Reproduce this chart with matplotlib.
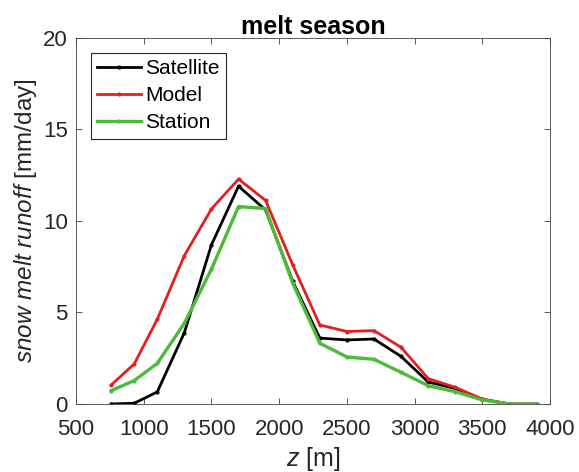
import matplotlib
matplotlib.use("Agg")
import matplotlib.pyplot as plt

plt.rcParams['font.family'] = ['Liberation Sans', 'DejaVu Sans']
plt.rcParams['mathtext.fontset'] = 'custom'
plt.rcParams['mathtext.it'] = 'Liberation Sans:italic'
plt.rcParams['mathtext.rm'] = 'Liberation Sans'

# elevation bands [m]
z = [760, 930, 1100, 1300, 1500, 1700, 1900, 2100, 2300, 2500, 2700, 2900, 3100, 3300, 3500, 3700, 3900]

satellite = [0.0, 0.04, 0.66, 3.9, 8.7, 11.9, 10.6, 6.7, 3.6, 3.5, 3.55, 2.6, 1.2, 0.85, 0.25, 0.0, 0.0]
model = [1.04, 2.19, 4.63, 8.11, 10.66, 12.29, 11.12, 7.6, 4.32, 3.96, 4.01, 3.1, 1.39, 0.91, 0.27, 0.0, 0.0]
station = [0.73, 1.28, 2.22, 4.41, 7.37, 10.79, 10.68, 6.6, 3.32, 2.57, 2.44, 1.73, 1.0, 0.67, 0.22, 0.0, 0.0]

fig = plt.figure(figsize=(5.79, 4.72), dpi=100)
ax = fig.add_axes([0.1313, 0.1441, 0.8187, 0.7754])

ax.plot(z, satellite, color='black', lw=2.0, marker='.', ms=4, label='Satellite')
ax.plot(z, model, color='#e31f1f', lw=2.0, marker='.', ms=4, label='Model')
ax.plot(z, station, color='#4dbb3a', lw=2.4, marker='.', ms=4, label='Station')

ax.set_xlim(500, 4000)
ax.set_ylim(0, 20)
ax.set_xticks(range(500, 4001, 500))
ax.set_yticks([0, 5, 10, 15, 20])

for s in ax.spines.values():
    s.set_color('#404040')
    s.set_linewidth(0.6)
ax.tick_params(direction='in', top=True, right=True, length=4, width=0.6,
               colors='#404040', labelsize=16, labelcolor='#262626')
ax.tick_params(axis='x', pad=10.5)
ax.tick_params(axis='y', pad=6)

ax.set_xlabel(r'$\mathit{z}$ [m]', fontsize=18, color='#262626', labelpad=4)
ax.set_ylabel(r'$\mathit{snow\ melt\ runoff}$ [mm/day]', fontsize=17.5, color='#262626', labelpad=3)
ax.set_title('melt season', fontsize=18, fontweight='bold', pad=3)

leg = ax.legend(loc='upper left', fontsize=15, frameon=True, fancybox=False,
                handlelength=2.1, handletextpad=0.2, borderpad=0.3, labelspacing=0.4,
                borderaxespad=0.7)
leg.get_frame().set_edgecolor('#262626')
leg.get_frame().set_linewidth(0.8)
leg.get_frame().set_alpha(1)

fig.savefig('out.png', dpi=100)
